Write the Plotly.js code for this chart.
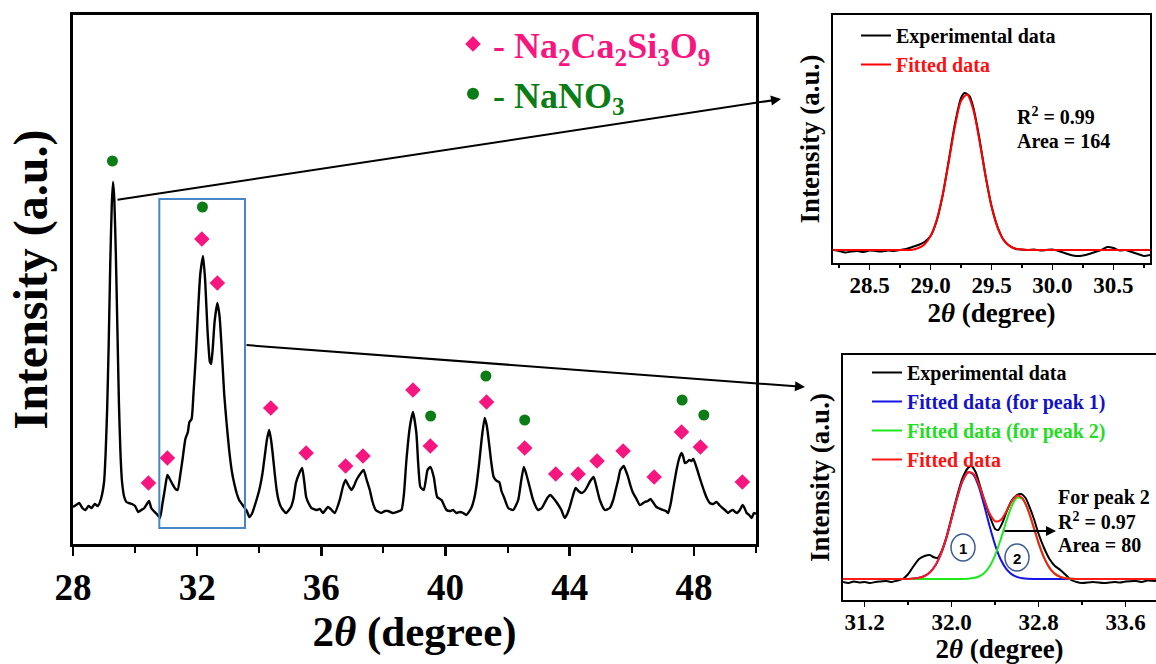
<!DOCTYPE html>
<html>
<head>
<meta charset="utf-8">
<script src="https://cdn.plot.ly/plotly-3.0.1.min.js"></script>
<style>html,body{margin:0;padding:0;background:#fff}#chart{width:1156px;height:664px}</style>
</head>
<body>
<div id="chart"></div>
<script>
// ---------- Main XRD pattern (2θ, intensity a.u.) ----------
const mainX = [28.00,28.10,28.20,28.30,28.40,28.50,28.60,28.70,28.80,28.90,29.00,29.05,29.10,29.15,29.20,29.25,29.29,29.33,29.38,29.43,29.48,29.53,29.58,29.65,29.72,29.80,29.90,30.00,30.10,30.20,30.30,30.38,30.45,30.52,30.60,30.70,30.80,30.88,30.96,31.04,31.10,31.20,31.30,31.37,31.45,31.53,31.62,31.70,31.75,31.82,31.88,31.96,32.04,32.10,32.19,32.26,32.33,32.41,32.45,32.50,32.56,32.65,32.72,32.78,32.87,32.95,33.03,33.12,33.19,33.28,33.35,33.51,33.60,33.68,33.76,33.84,34.00,34.10,34.16,34.25,34.32,34.38,34.43,34.50,34.56,34.62,34.70,34.86,35.02,35.10,35.18,35.28,35.38,35.45,35.51,35.60,35.68,35.84,35.95,36.05,36.21,36.30,36.43,36.59,36.70,36.78,36.88,36.97,37.05,37.13,37.25,37.36,37.46,37.56,37.65,37.75,37.93,38.05,38.15,38.30,38.42,38.58,38.66,38.74,38.85,38.95,39.06,39.12,39.19,39.30,39.42,39.51,39.62,39.73,39.87,40.03,40.15,40.24,40.35,40.46,40.57,40.67,40.83,40.92,40.99,41.08,41.16,41.26,41.33,41.40,41.48,41.55,41.65,41.73,41.80,41.88,42.02,42.18,42.34,42.43,42.52,42.60,42.71,42.82,42.98,43.10,43.19,43.30,43.38,43.47,43.57,43.73,43.84,43.92,44.00,44.10,44.19,44.28,44.38,44.48,44.56,44.66,44.77,44.87,44.97,45.13,45.29,45.40,45.48,45.56,45.63,45.74,45.81,45.88,45.96,46.04,46.15,46.26,46.42,46.52,46.60,46.70,46.79,47.01,47.10,47.17,47.25,47.31,47.44,47.52,47.60,47.65,47.71,47.78,47.85,47.92,47.98,48.08,48.21,48.35,48.43,48.51,48.62,48.73,48.82,48.92,49.00,49.10,49.18,49.26,49.33,49.39,49.48,49.57,49.63,49.70,49.78,49.86,49.93,50.00];
const mainY = [37,39,41,36,34,38,36,40,38,45,62,90,135,200,280,340,362,345,290,215,140,90,62,47,42,41,40,38,32,34,36,40,43,36,33,30,26,40,55,69,66,60,55,54,68,85,105,112,122,125,150,190,240,270,288,262,215,182,180,195,222,241,228,200,150,120,94,72,61,50,44,37,33,27,30,37,54,70,84,105,114,104,91,70,54,44,37,31,37,45,61,70,76,62,47,40,36,34,35,31,37,35,31,44,58,64,58,54,58,64,70,74,64,54,42,34,31,33,33,31,32,34,50,84,117,132,111,80,57,54,74,77,67,47,44,34,33,34,31,32,31,29,36,45,57,80,104,126,118,101,80,67,63,62,53,47,36,34,44,62,77,70,57,44,34,36,41,47,49,46,42,34,26,30,37,48,56,53,51,53,57,63,67,56,44,34,36,44,54,64,74,78,73,67,58,51,45,39,42,43,45,41,37,34,33,31,40,51,74,85,91,88,81,82,84,83,85,77,64,51,45,41,40,42,39,36,34,31,33,34,32,31,34,39,36,31,29,26,31,30];

// phase markers
const silicateX = [30.43,31.04,32.15,32.65,34.37,35.51,36.78,37.34,38.95,39.51,41.32,42.55,43.55,44.27,44.88,45.72,46.72,47.60,48.21,49.56];
const silicateY = [61,86,305,261,136,91,78,88,154,98,142,96,70,70,83,93,67,112,97,62];
const nitrateX = [29.27,32.17,39.52,41.30,42.55,47.62,48.32];
const nitrateY = [383,337,128,168,124,144,129];

// main x ticks
const mainTicks = [28,32,36,40,44,48];

// ---------- Inset 1 : single peak near 29.3 ----------
const in1ExpX = [28.20,28.25,28.30,28.35,28.40,28.45,28.50,28.55,28.60,28.65,28.70,28.75,28.80,28.85,28.90,28.95,29.00,29.05,29.10,29.15,29.20,29.25,29.28,29.32,29.35,29.40,29.45,29.50,29.55,29.60,29.65,29.70,29.75,29.80,29.85,29.90,29.95,30.00,30.05,30.10,30.15,30.20,30.25,30.30,30.35,30.40,30.45,30.50,30.55,30.60,30.65,30.70,30.75,30.80];
const in1ExpY = [13,12,10.5,11.5,12,11,12.5,12,11.5,12.5,12,13,14,16,18,21,27,42,68,103,139,165,170,167,156,125,88,57,36,23,17,14,13.5,13,13.5,12.5,13,13.5,12,10,8,7,7.5,9,11,13,16,15,12.5,13,11,9,7,8];
const in1FitX = [28.20,28.40,28.60,28.80,28.85,28.90,28.95,29.00,29.05,29.10,29.15,29.20,29.25,29.30,29.35,29.40,29.45,29.50,29.55,29.60,29.65,29.70,29.75,29.80,30.00,30.20,30.40,30.60,30.80];
const in1FitY = [13,13,13,13,13.3,15.0,18.6,26.9,42.8,68.3,101.8,136.6,162.0,168.5,153.7,123.2,87.8,56.9,35.4,22.9,16.8,14.2,13.4,13,13,13,13,13,13];
const in1Ticks = [28.5,29.0,29.5,30.0,30.5];

// ---------- Inset 2 : two overlapping peaks ----------
const in2ExpX = [31.00,31.05,31.10,31.15,31.20,31.25,31.30,31.35,31.40,31.45,31.50,31.55,31.60,31.65,31.70,31.75,31.80,31.83,31.87,31.90,31.95,32.00,32.05,32.10,32.15,32.18,32.22,32.25,32.30,32.35,32.40,32.43,32.47,32.50,32.55,32.60,32.64,32.68,32.72,32.76,32.80,32.85,32.90,32.95,33.00,33.05,33.10,33.15,33.20,33.30,33.40,33.50,33.55,33.60,33.70,33.75,33.80,33.88];
const in2ExpY = [18,17,18.5,17.5,18,17,18,18.5,19,18,19.5,21,26,34,41,44,45,43,42,47,62,83,104,122,132,134,128,118,100,84,71,70,78,87,99,105,106,102,92,80,66,52,41,34,30,25,20,18,17,18,17,18,17.5,18.5,19,18,19.5,19];
const in2FitX = [31.00,31.10,31.20,31.30,31.40,31.50,31.55,31.60,31.65,31.70,31.75,31.80,31.85,31.90,31.95,32.00,32.05,32.10,32.15,32.20,32.25,32.30,32.35,32.40,32.45,32.50,32.55,32.60,32.65,32.70,32.75,32.80,32.85,32.90,32.95,33.00,33.05,33.10,33.15,33.20,33.25,33.30,33.40,33.50,33.60,33.70,33.80,33.88];
const in2Peak1 = [21,21,21,21,21,21,21.0,21.1,21.4,22.2,24.0,27.7,34.5,45.8,61.9,81.7,102.2,119.0,127.5,125.3,113.0,94.2,73.4,54.9,40.7,31.3,25.9,23.1,21.8,21.3,21.1,21,21,21,21,21,21,21,21,21,21,21,21,21,21,21,21,21];
const in2Peak2 = [21,21,21,21,21,21,21,21,21,21,21,21,21,21,21,21,21.0,21.1,21.3,21.9,23.5,27.0,33.8,44.9,60.2,77.8,93.4,102.2,101.1,90.6,74.3,56.9,42.3,32.1,26.1,23.1,21.7,21.2,21.0,21,21,21,21,21,21,21,21,21];
const in2Fit = [21,21,21,21,21,21,21.0,21.1,21.4,22.2,24.0,27.7,34.5,45.8,61.9,81.7,102.2,119.1,127.8,126.2,115.5,100.2,86.2,78.8,79.9,88.1,98.3,104.3,101.9,90.9,74.4,56.9,42.3,32.1,26.1,23.1,21.7,21.2,21.0,21,21,21,21,21,21,21,21,21];
const in2Ticks = [31.2,32.0,32.8,33.6];

// ---------- helpers ----------
const W = 1156, H = 664;
const PX = v => v / W;
const PY = v => 1 - v / H;
const SERIF = 'Liberation Serif, Times New Roman, serif';
const PINK = '#f7167f', GREEN = '#0c7d16';

const traces = [
  {x: mainX, y: mainY, xaxis: 'x', yaxis: 'y', type: 'scatter', mode: 'lines',
   line: {color: '#000', width: 2.4, shape: 'spline', smoothing: 0.5}, showlegend: false, hoverinfo: 'skip'},
  {x: silicateX, y: silicateY, xaxis: 'x', yaxis: 'y', type: 'scatter', mode: 'markers',
   marker: {symbol: 'diamond', size: 12, color: PINK},
   name: '<span style="color:' + PINK + '">- Na<sub>2</sub>Ca<sub>2</sub>Si<sub>3</sub>O<sub>9</sub></span>', legend: 'legend'},
  {x: nitrateX, y: nitrateY, xaxis: 'x', yaxis: 'y', type: 'scatter', mode: 'markers',
   marker: {symbol: 'circle', size: 11, color: GREEN},
   name: '<span style="color:' + GREEN + '">- NaNO<sub>3</sub></span>', legend: 'legend'},
  // inset 1
  {x: in1ExpX, y: in1ExpY, xaxis: 'x2', yaxis: 'y2', type: 'scatter', mode: 'lines',
   line: {color: '#000', width: 2, shape: 'spline', smoothing: 0.6},
   name: '<span style="color:#000">Experimental data</span>', legend: 'legend2'},
  {x: in1FitX, y: in1FitY, xaxis: 'x2', yaxis: 'y2', type: 'scatter', mode: 'lines',
   line: {color: '#ff0000', width: 2, shape: 'spline', smoothing: 0.8},
   name: '<span style="color:#ff1010">Fitted data</span>', legend: 'legend2'},
  // inset 2
  {x: in2ExpX, y: in2ExpY, xaxis: 'x3', yaxis: 'y3', type: 'scatter', mode: 'lines',
   line: {color: '#000', width: 2, shape: 'spline', smoothing: 0.6},
   name: '<span style="color:#000">Experimental data</span>', legend: 'legend3'},
  {x: in2FitX, y: in2Peak1, xaxis: 'x3', yaxis: 'y3', type: 'scatter', mode: 'lines',
   line: {color: '#1414e6', width: 2, shape: 'spline', smoothing: 0.8},
   name: '<span style="color:#1212cc">Fitted data (for peak 1)</span>', legend: 'legend3'},
  {x: in2FitX, y: in2Peak2, xaxis: 'x3', yaxis: 'y3', type: 'scatter', mode: 'lines',
   line: {color: '#1ee81e', width: 2, shape: 'spline', smoothing: 0.8},
   name: '<span style="color:#22dd22">Fitted data (for peak 2)</span>', legend: 'legend3'},
  {x: in2FitX, y: in2Fit, xaxis: 'x3', yaxis: 'y3', type: 'scatter', mode: 'lines',
   line: {color: '#ff1a1a', width: 2, shape: 'spline', smoothing: 0.8},
   name: '<span style="color:#ff1010">Fitted data</span>', legend: 'legend3'}
];

const boldFont = (size, color) => ({family: SERIF, size: size, weight: 'bold', color: color || '#000'});
const boldTicks = arr => arr.map(v => '<b>' + v.toFixed(1) + '</b>');

const layout = {
  width: W, height: H,
  margin: {l: 0, r: 0, t: 0, b: 0},
  paper_bgcolor: '#fff', plot_bgcolor: 'rgba(0,0,0,0)',
  font: {family: SERIF, color: '#000'},
  xaxis: {domain: [PX(73), PX(756)], range: [28, 50], anchor: 'y',
    tickmode: 'array', tickvals: mainTicks, ticks: 'outside', ticklen: 9, tickwidth: 2.5, tickcolor: '#000',
    minor: {tickmode: 'array', tickvals: [30,34,38,42,46,50], ticks: 'outside', ticklen: 6, tickwidth: 2, tickcolor: '#000'},
    tickfont: boldFont(37), showgrid: false, zeroline: false,
    showline: true, linewidth: 3, linecolor: '#000', mirror: true,
    title: {text: '2<i>θ</i> (degree)', font: boldFont(43), standoff: 6}},
  yaxis: {domain: [PY(544), PY(15)], range: [0, 529], anchor: 'x',
    showticklabels: false, ticks: '', showgrid: false, zeroline: false,
    showline: true, linewidth: 3, linecolor: '#000', mirror: true,
    title: {text: 'Intensity (a.u.)', font: boldFont(48), standoff: 8}},
  xaxis2: {domain: [PX(833), PX(1150)], range: [28.2, 30.8], anchor: 'y2',
    tickmode: 'array', tickvals: in1Ticks, ticktext: boldTicks(in1Ticks),
    ticks: 'outside', ticklen: 5, tickwidth: 1.5, tickcolor: '#000', ticklabelstandoff: -5,
    minor: {tickmode: 'array', tickvals: [28.25,28.75,29.25,29.75,30.25,30.75], ticks: 'outside', ticklen: 3, tickwidth: 1.5, tickcolor: '#000'},
    tickfont: boldFont(23), showgrid: false, zeroline: false,
    showline: true, linewidth: 2, linecolor: '#000', mirror: true,
    title: {text: '2<i>θ</i> (degree)', font: boldFont(27), standoff: 4}},
  yaxis2: {domain: [PY(263), PY(15)], range: [0, 248], anchor: 'x2',
    showticklabels: false, ticks: '', showgrid: false, zeroline: false,
    showline: true, linewidth: 2, linecolor: '#000', mirror: true,
    title: {text: 'Intensity (a.u.)', font: boldFont(27), standoff: 4}},
  xaxis3: {domain: [PX(843), 1], range: [31.0, 33.88], anchor: 'y3',
    tickmode: 'array', tickvals: in2Ticks, ticktext: boldTicks(in2Ticks),
    ticks: 'outside', ticklen: 5, tickwidth: 1.5, tickcolor: '#000', ticklabelstandoff: -5,
    minor: {tickmode: 'array', tickvals: [31.6,32.4,33.2], ticks: 'outside', ticklen: 3, tickwidth: 1.5, tickcolor: '#000'},
    tickfont: boldFont(23), showgrid: false, zeroline: false,
    showline: true, linewidth: 2, linecolor: '#000', mirror: true,
    title: {text: '2<i>θ</i> (degree)', font: boldFont(27), standoff: 2}},
  yaxis3: {domain: [PY(600), PY(355)], range: [0, 245], anchor: 'x3',
    showticklabels: false, ticks: '', showgrid: false, zeroline: false,
    showline: true, linewidth: 2, linecolor: '#000', mirror: false,
    title: {text: 'Intensity (a.u.)', font: boldFont(27), standoff: 4}},
  legend: {x: PX(453), y: PY(14), xanchor: 'left', yanchor: 'top', bgcolor: 'rgba(0,0,0,0)',
    font: boldFont(36), itemsizing: 'constant', tracegroupgap: 0},
  legend2: {x: PX(856), y: PY(16), xanchor: 'left', yanchor: 'top', bgcolor: 'rgba(0,0,0,0)',
    font: boldFont(20), tracegroupgap: 0},
  legend3: {x: PX(867), y: PY(353), xanchor: 'left', yanchor: 'top', bgcolor: 'rgba(0,0,0,0)',
    font: boldFont(20), tracegroupgap: 0},
  shapes: [
    // zoom box around the 31-33.5 region
    {type: 'rect', xref: 'x', yref: 'y', x0: 30.78, x1: 33.54, y0: 16, y1: 345,
     line: {color: '#4a86c5', width: 2}},
    // circled peak numbers in inset 2
    {type: 'circle', xref: 'paper', yref: 'paper', x0: PX(951), x1: PX(975), y0: PY(561), y1: PY(534),
     line: {color: '#3d5d95', width: 1.5}},
    {type: 'circle', xref: 'paper', yref: 'paper', x0: PX(1005), x1: PX(1029), y0: PY(571), y1: PY(544),
     line: {color: '#3d5d95', width: 1.5}}
  ],
  annotations: [
    // connector arrows
    {xref: 'paper', yref: 'paper', x: PX(781), y: PY(99), ax: 116 - 781, ay: 200 - 99, axref: 'pixel', ayref: 'pixel',
     text: '', showarrow: true, arrowhead: 2, arrowsize: 1, arrowwidth: 2, arrowcolor: '#000'},
    {xref: 'paper', yref: 'paper', x: PX(805), y: PY(387), ax: 245 - 805, ay: 345 - 387, axref: 'pixel', ayref: 'pixel',
     text: '', showarrow: true, arrowhead: 2, arrowsize: 1, arrowwidth: 2, arrowcolor: '#000'},
    {xref: 'paper', yref: 'paper', x: PX(1056), y: PY(531), ax: -53, ay: 0, axref: 'pixel', ayref: 'pixel',
     text: '', showarrow: true, arrowhead: 2, arrowsize: 1, arrowwidth: 2, arrowcolor: '#000'},
    // inset 1 statistics
    {xref: 'paper', yref: 'paper', x: PX(1015), y: PY(116), xanchor: 'left', yanchor: 'middle', showarrow: false,
     text: 'R<sup>2</sup> = 0.99', font: boldFont(20)},
    {xref: 'paper', yref: 'paper', x: PX(1015), y: PY(141), xanchor: 'left', yanchor: 'middle', showarrow: false,
     text: 'Area = 164', font: boldFont(20)},
    // inset 2 statistics
    {xref: 'paper', yref: 'paper', x: PX(1056), y: PY(497), xanchor: 'left', yanchor: 'middle', showarrow: false,
     text: 'For peak 2', font: boldFont(20)},
    {xref: 'paper', yref: 'paper', x: PX(1056), y: PY(521), xanchor: 'left', yanchor: 'middle', showarrow: false,
     text: 'R<sup>2</sup> = 0.97', font: boldFont(20)},
    {xref: 'paper', yref: 'paper', x: PX(1056), y: PY(545), xanchor: 'left', yanchor: 'middle', showarrow: false,
     text: 'Area = 80', font: boldFont(20)},
    {xref: 'paper', yref: 'paper', x: PX(963), y: PY(548), xanchor: 'center', yanchor: 'middle', showarrow: false,
     text: '1', font: {family: 'Liberation Sans, Arial, sans-serif', size: 15, weight: 'bold', color: '#000'}},
    {xref: 'paper', yref: 'paper', x: PX(1017), y: PY(558), xanchor: 'center', yanchor: 'middle', showarrow: false,
     text: '2', font: {family: 'Liberation Sans, Arial, sans-serif', size: 15, weight: 'bold', color: '#000'}}
  ]
};

Plotly.newPlot('chart', traces, layout, {staticPlot: true, displayModeBar: false});
</script>
</body>
</html>
